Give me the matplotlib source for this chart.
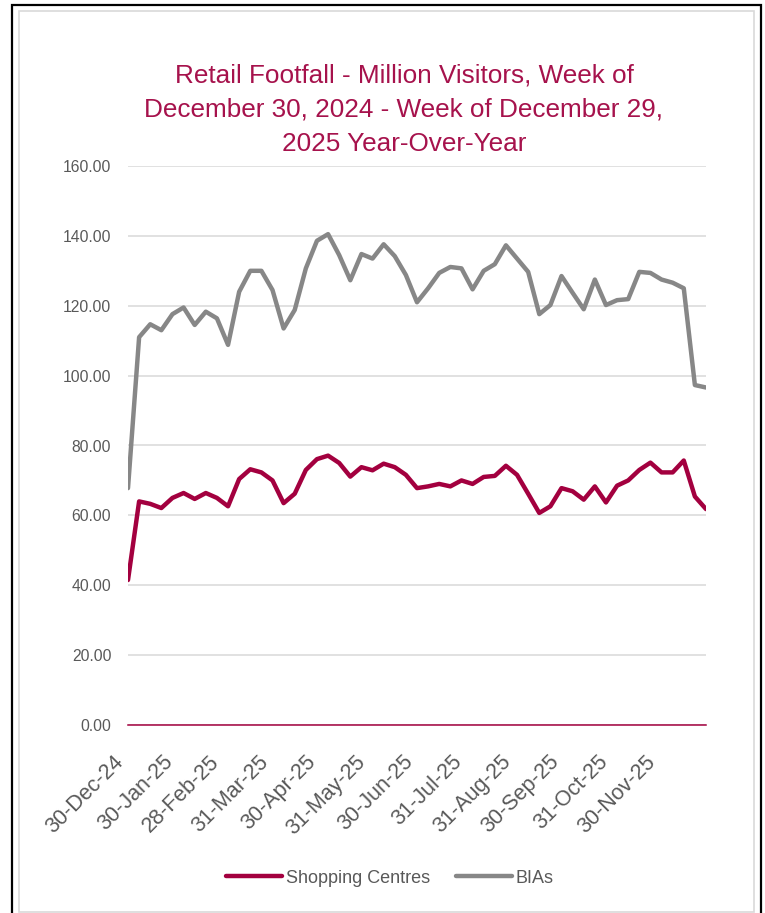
import numpy as np
import pandas as pd
import matplotlib.pyplot as plt
from matplotlib.patches import Rectangle

# weekly data, week of 30-Dec-24 .. week of 29-Dec-25
weeks = pd.date_range('2024-12-30', periods=53, freq='7D')

shopping_centres = [
    41.5, 64.0, 63.3, 62.1, 65.0, 66.4, 64.7, 66.4, 65.0, 62.6,
    70.4, 73.2, 72.3, 70.0, 63.5, 66.2, 73.0, 76.1, 77.1, 75.0,
    71.1, 73.8, 72.9, 74.8, 73.8, 71.6, 67.8, 68.3, 69.0, 68.3,
    70.0, 69.0, 71.0, 71.3, 74.2, 71.6, 66.2, 60.7, 62.6, 67.8,
    66.9, 64.5, 68.3, 63.7, 68.5, 70.0, 73.0, 75.1, 72.3, 72.3,
    75.7, 65.4, 61.8,
]
bias = [
    67.8, 111.0, 114.7, 113.0, 117.6, 119.5, 114.5, 118.3, 116.4, 108.8,
    124.0, 130.0, 130.0, 124.5, 113.5, 118.8, 130.7, 138.6, 140.5, 134.5,
    127.3, 134.8, 133.5, 137.6, 134.2, 128.8, 121.0, 125.0, 129.4, 131.1,
    130.7, 124.7, 130.0, 131.9, 137.3, 133.5, 129.7, 117.6, 120.2, 128.5,
    123.7, 119.0, 127.5, 120.2, 121.6, 121.9, 129.7, 129.4, 127.5, 126.6,
    125.0, 97.3, 96.6,
]

tick_dates = pd.to_datetime([
    '2024-12-30', '2025-01-30', '2025-02-28', '2025-03-31', '2025-04-30',
    '2025-05-31', '2025-06-30', '2025-07-31', '2025-08-31', '2025-09-30',
    '2025-10-31', '2025-11-30',
])
tick_labels = ['30-Dec-24', '30-Jan-25', '28-Feb-25', '31-Mar-25', '30-Apr-25',
               '31-May-25', '30-Jun-25', '31-Jul-25', '31-Aug-25', '30-Sep-25',
               '31-Oct-25', '30-Nov-25']
y_ticks = np.arange(0, 161, 20)

crimson = '#A3003F'
grey = '#878787'
text_grey = '#595959'

plt.rcParams['font.family'] = ['Liberation Sans', 'DejaVu Sans']

W, H = 765, 913
fig = plt.figure(figsize=(W / 100, H / 100), dpi=100)
ax = fig.add_axes([128 / W, (H - 725) / H, (706 - 128) / W, (725 - 166) / H])

ax.plot(weeks, shopping_centres, color=crimson, lw=3.2, solid_joinstyle='round',
        solid_capstyle='round', label='Shopping Centres', zorder=3)
ax.plot(weeks, bias, color=grey, lw=3.2, solid_joinstyle='round',
        solid_capstyle='round', label='BIAs', zorder=3)

ax.set_xlim(weeks[0], weeks[-1])
ax.set_ylim(0, 160)
ax.set_yticks(y_ticks)
ax.set_yticklabels([f'{v:.2f}' for v in y_ticks])
ax.set_xticks(tick_dates)
ax.set_xticklabels(tick_labels, rotation=45, ha='right')

ax.grid(axis='y', color='#D9D9D9', lw=1.1)
ax.set_axisbelow(True)
for s in ['top', 'right', 'left']:
    ax.spines[s].set_visible(False)
ax.spines['bottom'].set_color(crimson)
ax.spines['bottom'].set_linewidth(1.1)
ax.spines['bottom'].set_zorder(2)
ax.tick_params(axis='both', length=0, colors=text_grey)
ax.tick_params(axis='y', labelsize=11.3, pad=12)
ax.tick_params(axis='x', labelsize=15.5, pad=19)

fig.text(404 / W, (H - 63) / H,
         'Retail Footfall - Million Visitors, Week of\n'
         'December 30, 2024 - Week of December 29,\n'
         '2025 Year-Over-Year',
         ha='center', va='top', fontsize=18.8, color='#A6124C', linespacing=1.56)

fig.legend(loc='center', bbox_to_anchor=(390 / W, (H - 878) / H), ncol=2,
           frameon=False, fontsize=13, handlelength=3.1, handletextpad=0.2,
           columnspacing=1.45, labelcolor=text_grey)

# chart frame: thin grey inner border, black outer border
fig.patches.append(Rectangle((18.5 / W, 1.5 / H), (754 - 18.5) / W, (911.5 - 11) / H,
                             transform=fig.transFigure, fill=False,
                             edgecolor='#D9D9D9', lw=1.2))
fig.patches.append(Rectangle((12 / W, -0.02), (761 - 12) / W, (H - 5) / H + 0.02,
                             transform=fig.transFigure, fill=False,
                             edgecolor='black', lw=1.6))

fig.savefig('out.png', dpi=100)
